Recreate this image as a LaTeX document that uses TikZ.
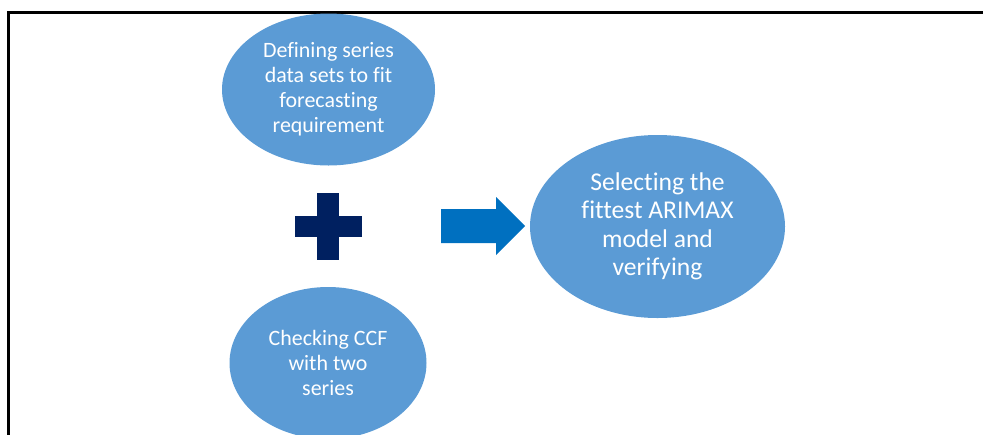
\documentclass[tikz,border=0pt]{standalone}
\usepackage{fontspec}
\setmainfont{Carlito}[Ligatures=NoCommon]
\usetikzlibrary{shapes.geometric}
\definecolor{SeriesBlue}{HTML}{5B9BD5}
\definecolor{PlusNavy}{HTML}{002060}
\definecolor{ArrowBlue}{HTML}{0070C0}

\begin{document}
\begin{tikzpicture}[
      oval/.style={ellipse,fill=SeriesBlue,inner sep=0pt,text=white,align=center},
      smalltext/.style={font=\fontsize{15.6}{17.8}\selectfont},
      bigtext/.style={font=\fontsize{18.2}{20.3}\selectfont},
      plusbar/.style={fill=PlusNavy,inner sep=0pt}
    ]
    \path[use as bounding box] (0,0) rectangle (24.575,-10.85);
    \draw[line width=1.5pt] (0.2125,-10.9) -- (0.2125,-0.3125) -- (24.6,-0.3125);

    \node[oval,smalltext,minimum width=5.325cm,minimum height=3.8cm]
      (define) at (8.2125,-2.2375) {Defining series\\data sets to fit\\forecasting\\requirement};
    \node[oval,smalltext,minimum width=4.925cm,minimum height=3.8cm]
      (check) at (8.2,-9.075) {Checking CCF\\with two\\series};
    \node[oval,bigtext,minimum width=6.375cm,minimum height=4.575cm]
      (select) at (16.4375,-5.6625) {Selecting the\\fittest ARIMAX\\model and\\verifying};

    % plus sign
    \node[plusbar,minimum width=1.675cm,minimum height=0.5375cm] (plush) at (8.2,-5.6625) {};
    \node[plusbar,minimum width=0.55cm,minimum height=1.675cm] (plusv) at (8.2,-5.6625) {};

    % block arrow
    \fill[ArrowBlue] (11.025,-5.225) -- (12.4,-5.225) -- (12.4,-4.925) -- (13.125,-5.65)
      -- (12.4,-6.375) -- (12.4,-6.075) -- (11.025,-6.075) -- cycle;
  \end{tikzpicture}
\end{document}
